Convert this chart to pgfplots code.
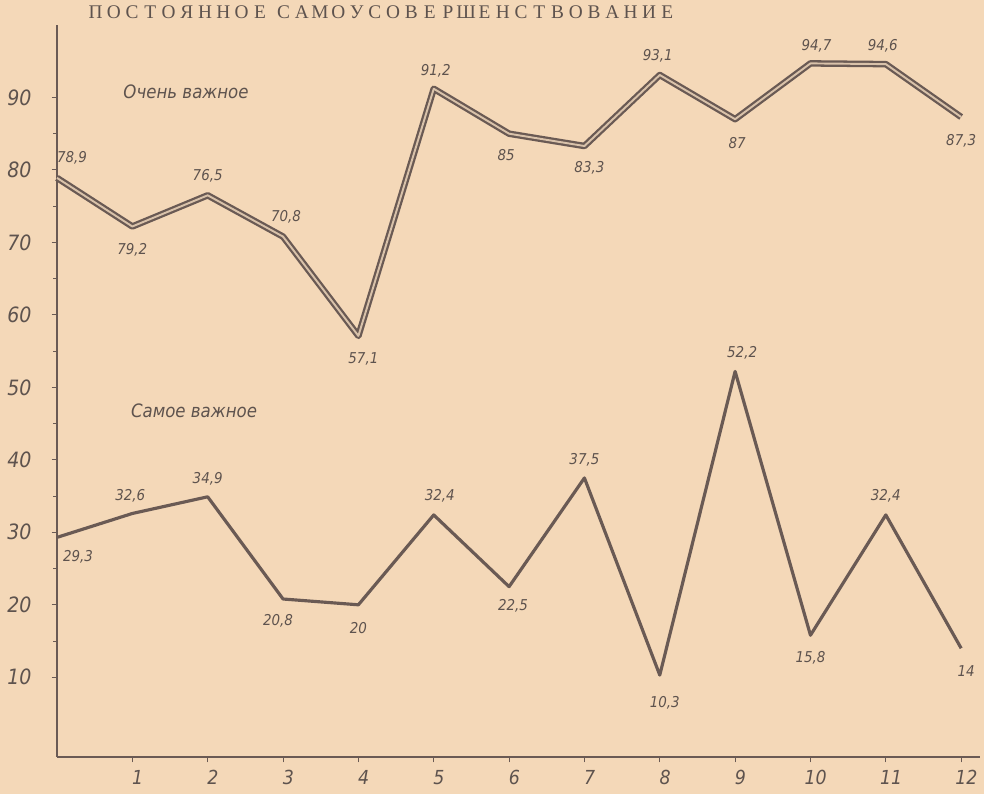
\documentclass[border=0pt]{standalone}
\usepackage{pgfplots}
\pgfplotsset{compat=1.18}
\usepackage{fontspec}
\setmainfont{DejaVu Sans}
\newfontfamily\labfont{DejaVu Sans Condensed}[UprightFont={DejaVu Sans Condensed Oblique},ItalicFont={DejaVu Sans Condensed Oblique}]
\newfontfamily\titfont{Liberation Serif}
\definecolor{bgc}{HTML}{F4D8B8}
\definecolor{linec}{HTML}{6A5A54}
\definecolor{inner}{HTML}{D9C2AA}
\definecolor{txt}{HTML}{5E534E}
\tikzset{lbl/.style={font=\labfont\fontsize{8.5}{9}\selectfont, text=txt}}
\def\sp#1{\ifx#1\relax\else\makebox[10.4pt]{#1}\expandafter\sp\fi}
\begin{document}
\begin{tikzpicture}
\fill[bgc] (0,0) rectangle (19.68,15.88);
\node[anchor=west, font=\titfont\fontsize{11}{12}\selectfont, text=txt, inner sep=0pt] at (1.72,15.64) {\sp ПОСТОЯННОЕ\relax\hspace{3pt}\sp САМОУСОВЕРШЕНСТВОВАНИЕ\relax};
\begin{axis}[
  at={(1.14cm,0.74cm)}, anchor=south west,
  scale only axis, width=18.46cm, height=14.64cm,
  xmin=0, xmax=12.25, ymin=-1, ymax=100,
  axis x line*=bottom, axis y line*=left,
  axis line style={draw=linec, line width=0.7pt},
  xtick={1,2,...,12}, ytick={10,20,...,90},
  minor y tick num=1,
  tick align=outside,
  major tick length=3pt, minor tick length=2pt,
  tick style={draw=linec, line width=0.6pt},
  /pgf/number format/assume math mode=true,
  ticklabel style={font=\labfont\fontsize{12}{13}\selectfont, text=txt},
  yticklabel style={xshift=-8pt},
  xticklabel style={font=\labfont\fontsize{11}{12}\selectfont, yshift=-1pt, xshift=3pt},
  clip=false,
]
% Очень важное (double line)
\addplot[draw=linec, line width=1.3pt, double=inner, double distance=1.1pt, line join=round, mark=none] coordinates {
(0,78.9) (1,72.2) (2,76.5) (3,70.8) (4,57.1) (5,91.2) (6,85) (7,83.3) (8,93.1) (9,87) (10,94.7) (11,94.6) (12,87.3)};
% Самое важное
\addplot[draw=linec, line width=1.8pt, line join=round, mark=none] coordinates {
(0,29.3) (1,32.6) (2,34.9) (3,20.8) (4,20) (5,32.4) (6,22.5) (7,37.5) (8,10.3) (9,52.2) (10,15.8) (11,32.4) (12,14)};

\node[lbl, xshift=0.3cm, yshift=0.4cm] at (axis cs:0,78.9) {78,9};
\node[lbl, yshift=-0.46cm] at (axis cs:1,72.2) {79,2};
\node[lbl, yshift=0.38cm] at (axis cs:2,76.5) {76,5};
\node[lbl, xshift=0.06cm, yshift=0.4cm] at (axis cs:3,70.8) {70,8};
\node[lbl, xshift=0.1cm, yshift=-0.46cm] at (axis cs:4,57.1) {57,1};
\node[lbl, xshift=0.04cm, yshift=0.36cm] at (axis cs:5,91.2) {91,2};
\node[lbl, xshift=-0.06cm, yshift=-0.42cm] at (axis cs:6,85) {85};
\node[lbl, xshift=0.1cm, yshift=-0.44cm] at (axis cs:7,83.3) {83,3};
\node[lbl, xshift=-0.04cm, yshift=0.38cm] at (axis cs:8,93.1) {93,1};
\node[lbl, xshift=0.04cm, yshift=-0.48cm] at (axis cs:9,87) {87};
\node[lbl, xshift=0.12cm, yshift=0.36cm] at (axis cs:10,94.7) {94,7};
\node[lbl, xshift=-0.06cm, yshift=0.36cm] at (axis cs:11,94.6) {94,6};
\node[lbl, yshift=-0.48cm] at (axis cs:12,87.3) {87,3};

\node[lbl, xshift=0.42cm, yshift=-0.38cm] at (axis cs:0,29.3) {29,3};
\node[lbl, xshift=-0.04cm, yshift=0.36cm] at (axis cs:1,32.6) {32,6};
\node[lbl, yshift=0.36cm] at (axis cs:2,34.9) {34,9};
\node[lbl, xshift=-0.1cm, yshift=-0.44cm] at (axis cs:3,20.8) {20,8};
\node[lbl, yshift=-0.46cm] at (axis cs:4,20) {20};
\node[lbl, xshift=0.12cm, yshift=0.38cm] at (axis cs:5,32.4) {32,4};
\node[lbl, xshift=0.08cm, yshift=-0.38cm] at (axis cs:6,22.5) {22,5};
\node[lbl, yshift=0.36cm] at (axis cs:7,37.5) {37,5};
\node[lbl, xshift=0.1cm, yshift=-0.56cm] at (axis cs:8,10.3) {10,3};
\node[lbl, xshift=0.14cm, yshift=0.38cm] at (axis cs:9,52.2) {52,2};
\node[lbl, yshift=-0.46cm] at (axis cs:10,15.8) {15,8};
\node[lbl, yshift=0.38cm] at (axis cs:11,32.4) {32,4};
\node[lbl, xshift=0.1cm, yshift=-0.46cm] at (axis cs:12,14) {14};

\node[anchor=west, font=\labfont\fontsize{10.5}{11}\selectfont, text=txt] at (axis cs:0.8,90.8) {Очень важное};
\node[anchor=west, font=\labfont\fontsize{10.5}{11}\selectfont, text=txt] at (axis cs:0.9,46.8) {Самое важное};
\end{axis}
\pgfresetboundingbox
\path[use as bounding box] (0,0) rectangle (19.68,15.88);
\end{tikzpicture}
\end{document}
